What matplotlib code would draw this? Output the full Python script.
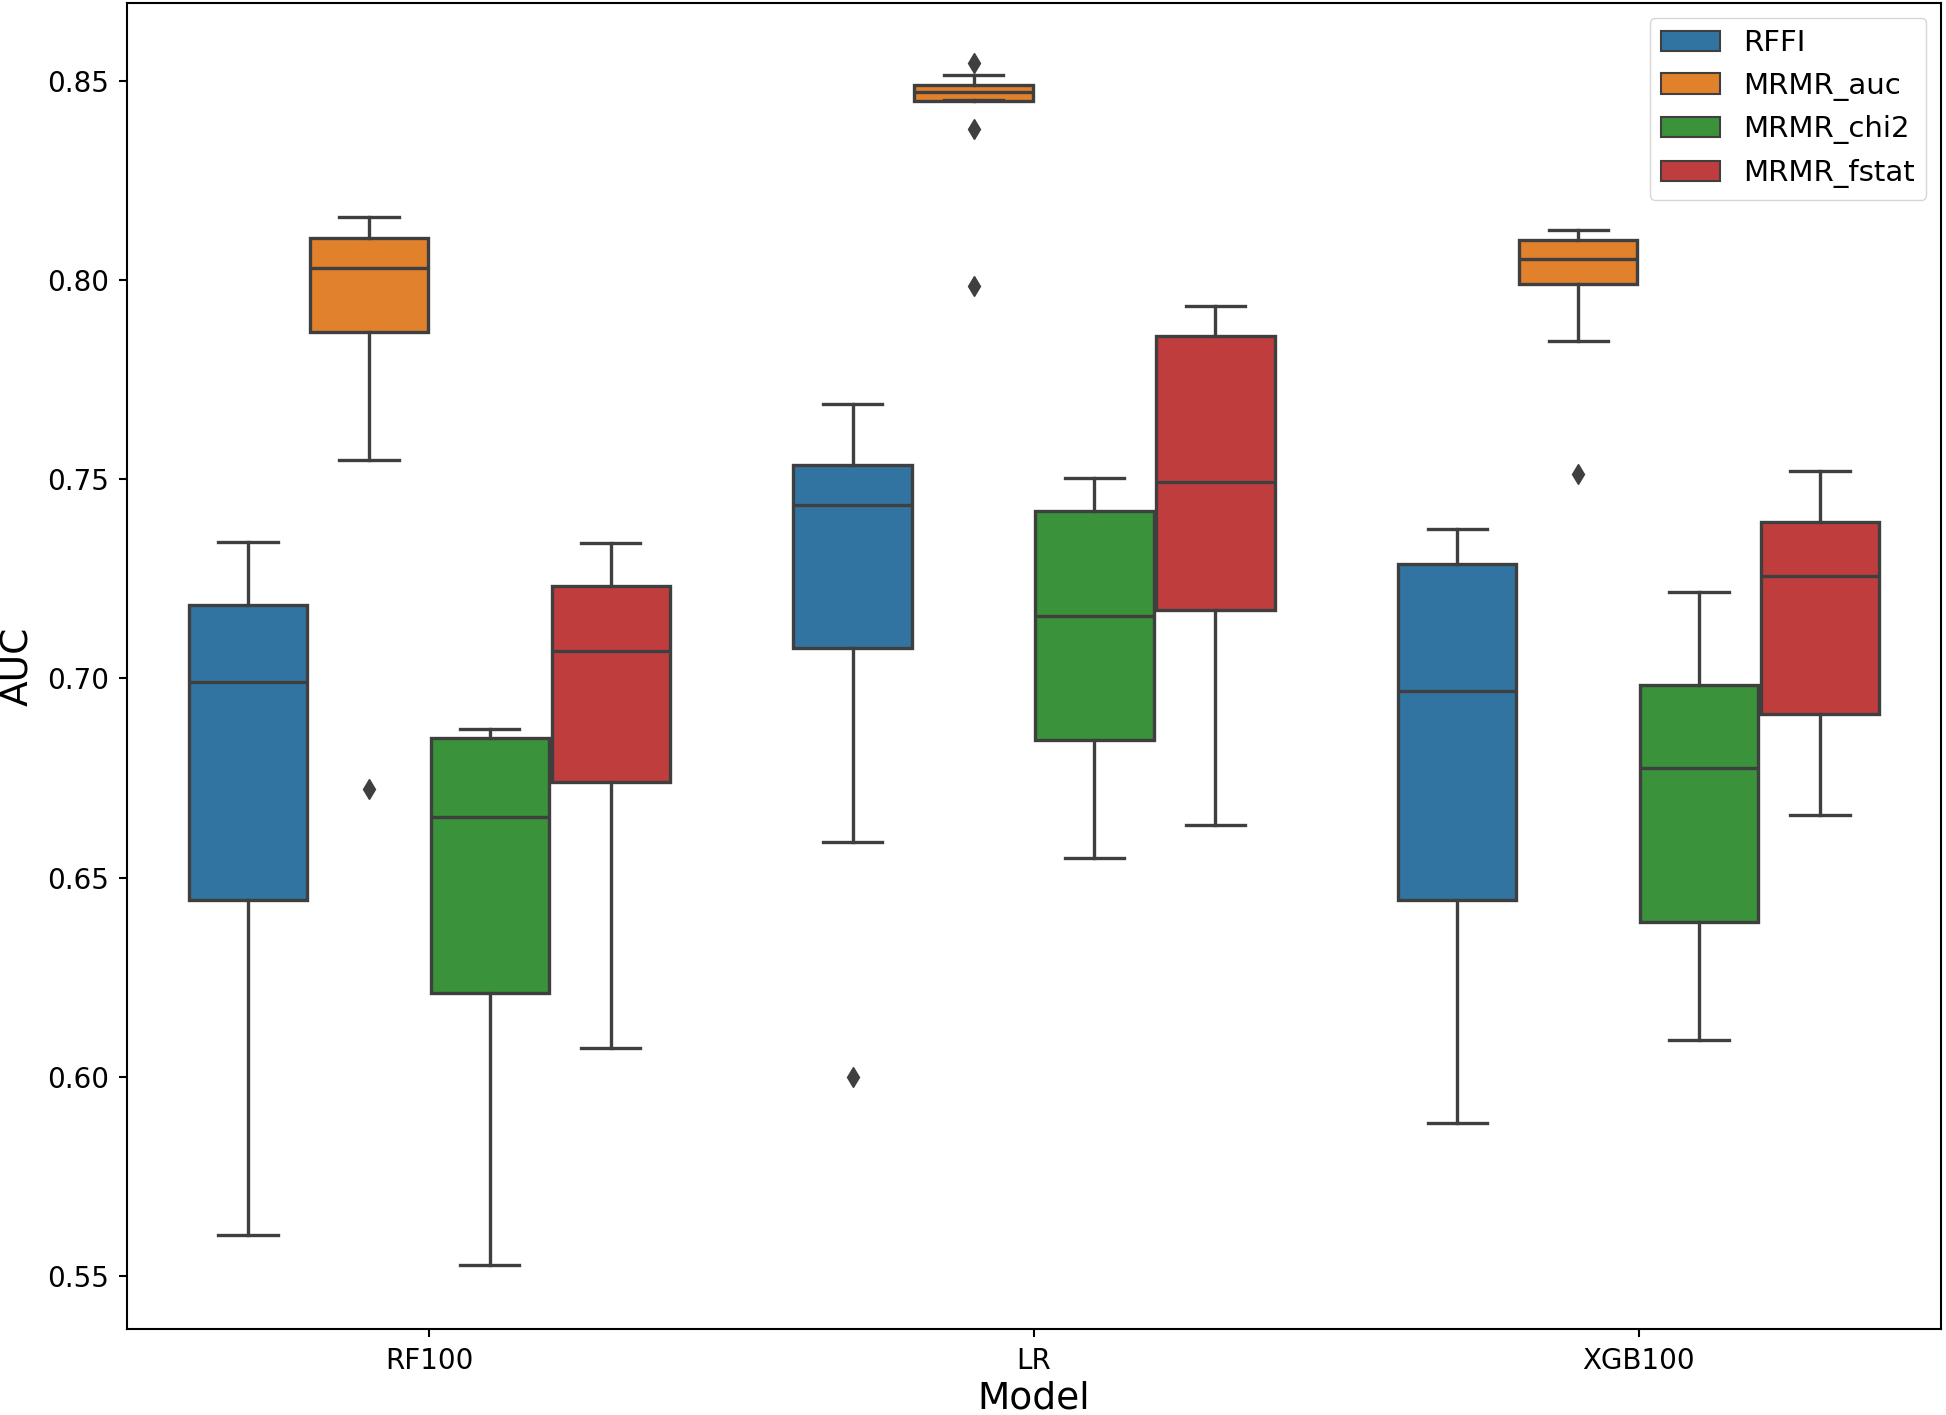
import numpy as np
import matplotlib.pyplot as plt
from matplotlib.patches import Patch

# box statistics (one entry per model)
models = ['RF100', 'LR', 'XGB100']
methods = ['RFFI', 'MRMR_auc', 'MRMR_chi2', 'MRMR_fstat']
colors = ['#3274a1', '#e1812c', '#3a923a', '#c03d3e']

rffi_q = [[0.5604, 0.6444, 0.6991, 0.7184, 0.7343],
          [0.6590, 0.7076, 0.7436, 0.7536, 0.7688],
          [0.5884, 0.6444, 0.6967, 0.7287, 0.7374]]
rffi_fliers = [[], [0.6000], []]

auc_q = [[0.7548, 0.7869, 0.8030, 0.8105, 0.8158],
         [0.8452, 0.8450, 0.8471, 0.8489, 0.8514],
         [0.7847, 0.7990, 0.8052, 0.8099, 0.8124]]
auc_fliers = [[0.6721], [0.8544, 0.8379, 0.7985], [0.7514]]

chi2_q = [[0.5527, 0.6211, 0.6653, 0.6849, 0.6873],
          [0.6550, 0.6845, 0.7156, 0.7421, 0.7502],
          [0.6093, 0.6388, 0.6774, 0.6982, 0.7216]]
chi2_fliers = [[], [], []]

fstat_q = [[0.6071, 0.6740, 0.7069, 0.7231, 0.7340],
           [0.6631, 0.7172, 0.7492, 0.7859, 0.7934],
           [0.6656, 0.6911, 0.7256, 0.7393, 0.7520]]
fstat_fliers = [[], [], []]

all_q = [rffi_q, auc_q, chi2_q, fstat_q]
all_fliers = [rffi_fliers, auc_fliers, chi2_fliers, fstat_fliers]

gray = '#3f3f3f'
fig = plt.figure(figsize=(19.46, 14.15), dpi=100)
ax = fig.add_axes([0.0653, 0.0608, 0.9321, 0.9371])

offsets = [-0.3, -0.1, 0.1, 0.3]
for k, (qs, fl) in enumerate(zip(all_q, all_fliers)):
    stats = []
    for i in range(len(models)):
        lo, q1, med, q3, hi = qs[i]
        stats.append(dict(whislo=lo, q1=q1, med=med, q3=q3, whishi=hi, fliers=fl[i]))
    pos = np.arange(len(models)) + offsets[k]
    ax.bxp(stats, positions=pos, widths=0.196, patch_artist=True, showfliers=True,
           boxprops=dict(facecolor=colors[k], edgecolor=gray, linewidth=2.4),
           medianprops=dict(color=gray, linewidth=2.4),
           whiskerprops=dict(color=gray, linewidth=2.4),
           capprops=dict(color=gray, linewidth=2.4),
           flierprops=dict(marker='d', markerfacecolor=gray, markeredgecolor=gray, markersize=10))

ax.set_xlim(-0.5, 2.5)
ax.set_ylim(0.5367, 0.8695)
ax.set_xticks(range(len(models)))
ax.set_xticklabels(models)
ax.set_yticks([0.55, 0.60, 0.65, 0.70, 0.75, 0.80, 0.85])
ax.tick_params(labelsize=20, width=1.5, length=6, pad=7)
for s in ax.spines.values():
    s.set_linewidth(1.5)
ax.set_xlabel('Model', fontsize=27, labelpad=4)
ax.set_ylabel('AUC', fontsize=27, labelpad=8)

handles = [Patch(facecolor=c, edgecolor=gray, linewidth=1.5, label=m) for c, m in zip(colors, methods)]
ax.legend(handles=handles, loc='upper right', fontsize=21)

fig.savefig('out.png', dpi=100)
